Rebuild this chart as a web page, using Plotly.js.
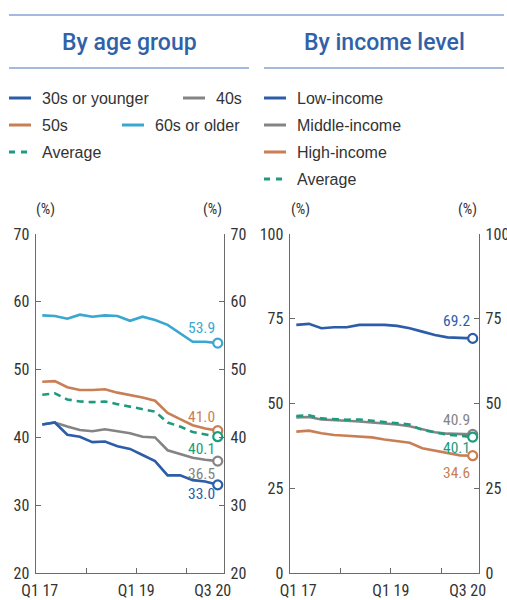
<!DOCTYPE html>
<html>
<head>
<meta charset="utf-8">
<script src="https://cdn.plot.ly/plotly-3.0.1.min.js"></script>
<style>html,body{margin:0;padding:0;background:#fff;}#chart{width:507px;height:600px;}</style>
</head>
<body>
<div id="chart"></div>
<script>
// ---- data ----
const quarters = ['Q1 17','Q2 17','Q3 17','Q4 17','Q1 18','Q2 18','Q3 18','Q4 18','Q1 19','Q2 19','Q3 19','Q4 19','Q1 20','Q2 20','Q3 20'];
const xTickLabels = ['Q1 17','Q1 19','Q3 20'];
const age30 = [41.9,42.2,40.4,40.1,39.3,39.4,38.7,38.3,37.4,36.5,34.4,34.4,33.7,33.5,33.0];
const age40 = [41.9,42.2,41.6,41.1,40.9,41.2,40.9,40.6,40.1,40.0,38.1,37.6,37.0,36.7,36.5];
const age50 = [48.2,48.3,47.4,47.0,47.0,47.1,46.6,46.3,45.9,45.4,43.6,42.7,41.8,41.3,41.0];
const age60 = [58.0,57.9,57.5,58.1,57.8,58.0,57.9,57.2,57.8,57.3,56.6,55.4,54.1,54.1,53.9];
const average = [46.3,46.5,45.6,45.3,45.2,45.3,44.9,44.5,44.2,43.8,42.2,41.6,40.8,40.5,40.1];
const lowInc = [73.2,73.5,72.2,72.5,72.5,73.2,73.2,73.2,72.9,72.2,71.2,70.2,69.5,69.3,69.2];
const midInc = [45.9,46.0,45.3,45.0,44.9,44.7,44.4,44.2,43.8,43.3,42.3,41.5,41.1,41.0,40.9];
const highInc = [41.7,42.0,41.2,40.7,40.5,40.2,40.0,39.4,39.0,38.4,36.8,36.1,35.3,34.7,34.6];
const ageNames = ['30s or younger','40s','50s','60s or older','Average'];
const incNames = ['Low-income','Middle-income','High-income','Average'];

// ---- styles ----
const C = {blue:'#2C5DA8', gray:'#848484', orange:'#C97F55', lblue:'#3AA7D1', teal:'#1E9B7D'};
const NUMFONT = '"Roboto Condensed",Roboto,sans-serif';
const TXTFONT = '"Liberation Sans",Arial,sans-serif';
const xi = quarters.map((q,i)=>i);
const last = xi.length-1;
const W = 507, H = 600;
const px = v => v/W, py = v => 1 - v/H;

function line(y, color, xa, ya, dash){
  return {x: xi, y: y, xaxis: xa, yaxis: ya, mode:'lines', line:{color:color, width:2.6, dash: dash||'solid'}, hoverinfo:'skip', showlegend:false};
}
function endMark(y, color, xa, ya){
  return {x:[xi[last]], y:[y[last]], xaxis: xa, yaxis: ya, mode:'markers', cliponaxis:false,
    marker:{symbol:'circle', size:9, color:'#fff', line:{color:color, width:2.2}}, hoverinfo:'skip', showlegend:false};
}
const traces = [
  line(age60, C.lblue,'x','y'), line(age50, C.orange,'x','y'), line(average, C.teal,'x','y','7px,5px'),
  line(age40, C.gray,'x','y'), line(age30, C.blue,'x','y'),
  line(lowInc, C.blue,'x2','y2'), line(midInc, C.gray,'x2','y2'), line(average, C.teal,'x2','y2','7px,5px'),
  line(highInc, C.orange,'x2','y2'),
  endMark(age60, C.lblue,'x','y3'), endMark(age50, C.orange,'x','y3'), endMark(average, C.teal,'x','y3'),
  endMark(age40, C.gray,'x','y3'), endMark(age30, C.blue,'x','y3'),
  endMark(lowInc, C.blue,'x2','y4'), endMark(midInc, C.gray,'x2','y4'), endMark(highInc, C.orange,'x2','y4'),
  endMark(average, C.teal,'x2','y4')
];

const tickFont = {family: NUMFONT, size: 16, color:'#333'};
const axLine = {showline:true, linecolor:'#6b6b6b', linewidth:1.4, showgrid:false, zeroline:false, fixedrange:true};
function xAx(dom, anchor, tv){
  return Object.assign({domain: dom, anchor: anchor, range:[-0.5,14.5], tickmode:'array',
    tickvals: tv, ticktext: xTickLabels, ticks:'', tickfont: tickFont, ticklabelstandoff: 2,
    minor:{tickmode:'array', tickvals:[3.5,7.5,11.5], ticks:'inside', ticklen:5, tickwidth:1.2, tickcolor:'#6b6b6b'}}, axLine);
}
function yAx(range, vals, anchor, side, overlay){
  const a = Object.assign({domain:[0.045,0.61], anchor: anchor, range: range, tickmode:'array', tickvals: vals,
    ticks:'inside', ticklen:5, tickwidth:1.2, tickcolor:'#6b6b6b', tickfont: tickFont, side: side, ticklabelstandoff: 2}, axLine);
  if (overlay) a.overlaying = overlay;
  return a;
}
const ageVals=[20,30,40,50,60,70], incVals=[0,25,50,75,100];

const annotations = [];
function valLab(series, text, color, xr, yr, ys){
  annotations.push({x: xi[last], y: series[last], xref: xr, yref: yr, text: text, showarrow:false,
    xanchor:'right', yanchor:'middle', xshift:-1, yshift: ys, font:{family:NUMFONT, size:15.5, color:color}});
}
valLab(age60, age60[last].toFixed(1), C.lblue, 'x','y', 15);
valLab(age50, age50[last].toFixed(1), C.orange, 'x','y', 14);
valLab(average, average[last].toFixed(1), C.teal, 'x','y', -12);
valLab(age40, age40[last].toFixed(1), C.gray, 'x','y', -13);
valLab(age30, age30[last].toFixed(1), C.blue, 'x','y', -9);
valLab(lowInc, lowInc[last].toFixed(1), C.blue, 'x2','y2', 17);
valLab(midInc, midInc[last].toFixed(1), C.gray, 'x2','y2', 14);
valLab(average, average[last].toFixed(1), C.teal, 'x2','y2', -11);
valLab(highInc, highInc[last].toFixed(1), C.orange, 'x2','y2', -17);

function txt(x, y, t, opts){
  annotations.push(Object.assign({x: px(x), y: py(y), xref:'paper', yref:'paper', text:t, showarrow:false,
    xanchor:'center', yanchor:'middle', font:{family:NUMFONT, size:15, color:'#333'}}, opts||{}));
}
// unit labels
txt(45,209,'(%)'); txt(212,209,'(%)'); txt(300,209,'(%)'); txt(467,209,'(%)');
// panel titles
const titleFont = {family:'Roboto,"Liberation Sans",sans-serif', size:23, color:'#2F62A7', weight:500};
txt(129,42,'By age group',{font:titleFont});
txt(384,42,'By income level',{font:titleFont});

// legends
const shapes = [];
function rule(x0,x1,y){ shapes.push({type:'line', xref:'paper', yref:'paper', x0:px(x0), x1:px(x1), y0:py(y), y1:py(y), line:{color:'#86A2D2', width:1.5}}); }
rule(9,504,15); rule(9,249,68); rule(264,504,68);
function legItem(x, y, name, color, dash){
  shapes.push({type:'line', xref:'paper', yref:'paper', x0:px(x), x1:px(x+22), y0:py(y), y1:py(y), line:{color:color, width:3, dash: dash||'solid'}});
  txt(x+31, y, name, {xanchor:'left', font:{family:TXTFONT, size:16, color:'#333'}});
}
legItem(9,98,ageNames[0],C.blue); legItem(183,98,ageNames[1],C.gray);
legItem(9,125,ageNames[2],C.orange); legItem(122,125,ageNames[3],C.lblue);
legItem(9,152,ageNames[4],C.teal,'6px,6px');
legItem(264,98,incNames[0],C.blue); legItem(264,125,incNames[1],C.gray);
legItem(264,152,incNames[2],C.orange); legItem(264,179,incNames[3],C.teal,'6px,6px');

const layout = {
  width: W, height: H, margin:{l:0,r:0,t:0,b:0}, paper_bgcolor:'#fff', plot_bgcolor:'rgba(0,0,0,0)',
  showlegend:false,
  xaxis: xAx([36/W, 224/W], 'y', [-0.2,7.5,13.6]),
  xaxis2: xAx([290/W, 479/W], 'y2', [0.15,7.5,13.6]),
  yaxis: yAx([20,70], ageVals, 'x', 'left'),
  yaxis3: yAx([20,70], ageVals, 'x', 'right', 'y'),
  yaxis2: yAx([0,100], incVals, 'x2', 'left'),
  yaxis4: yAx([0,100], incVals, 'x2', 'right', 'y2'),
  annotations: annotations, shapes: shapes
};
Plotly.newPlot('chart', traces, layout, {staticPlot:true, displayModeBar:false});
</script>
</body>
</html>
